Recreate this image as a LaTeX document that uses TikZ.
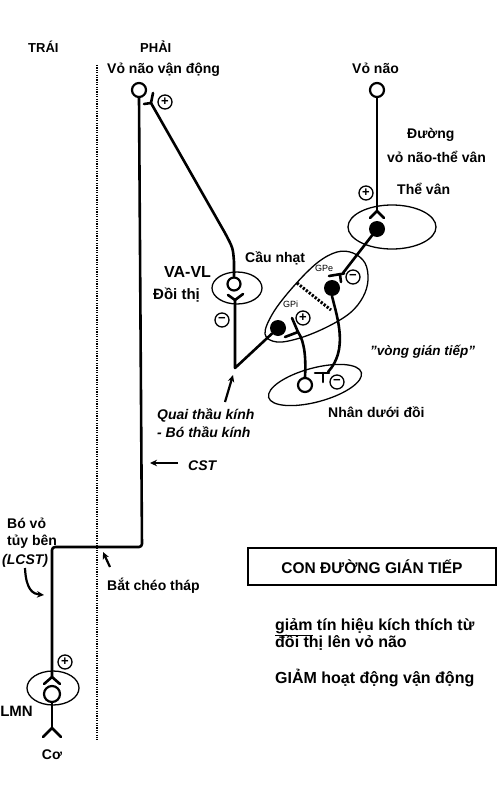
\documentclass[tikz,border=0pt]{standalone}
\usepackage{fontspec}
\setmainfont{Liberation Sans}
\usetikzlibrary{arrows.meta,shapes.geometric}
\begin{document}
\begin{tikzpicture}[x=1pt,y=-1pt,
  axon/.style={line width=2.6pt, line cap=round, line join=round},
  soma/.style={circle, draw, line width=2.2pt, inner sep=0pt, minimum size=13pt},
  fsoma/.style={circle, fill, inner sep=0pt, minimum size=16pt},
  sign/.style={circle, draw, line width=1.3pt, inner sep=0pt, minimum size=14pt, font=\fontsize{13}{13}\selectfont\bfseries},
  region/.style={ellipse, draw, line width=1.3pt, inner sep=0pt},
  lbl/.style={font=\fontsize{14}{16}\selectfont\bfseries, inner sep=0pt, anchor=base west},
  ilbl/.style={font=\fontsize{14}{16}\selectfont\bfseries\itshape, inner sep=0pt, anchor=base west},
  small/.style={font=\fontsize{9}{10}\selectfont, inner sep=0pt, anchor=base west},
  big/.style={font=\fontsize{16}{18}\selectfont\bfseries, inner sep=0pt, anchor=base west},
  arr/.style={line width=2.2pt, -{Stealth[length=7pt,width=6.5pt]}},
]
\useasboundingbox (0,0) rectangle (500,789);

% midline
\draw[line width=2.4pt, dash pattern=on 1.2pt off 1.2pt] (97,65) -- (97,740);

% regions
\node[region, minimum width=88pt, minimum height=44pt] (strE) at (392,227) {};
\node[region, minimum width=50pt, minimum height=32pt] (thalE) at (237,288) {};
\node[region, minimum width=52pt, minimum height=34pt] (lmnE) at (53,688) {};
\node[region, minimum width=96pt, minimum height=34pt, rotate=15] (stnE) at (315,385) {};
\draw[line width=1.3pt] plot[smooth cycle, tension=0.6] coordinates {(265,334) (273,313) (293,287) (317,263) (337,252) (353,253) (365,263) (368,280) (363,297) (350,313) (327,327) (300,338) (277,342)};
\draw[line width=3pt, dash pattern=on 2.2pt off 1.6pt] (297,283) -- (331,310);

% neurons
\node[soma, minimum size=14pt] (mc) at (139,90) {};
\node[soma, minimum size=14pt] (ctx) at (377,90) {};
\node[soma] (thal) at (234,284) {};
\node[fsoma] (str) at (377,229) {};
\node[fsoma] (gpe) at (332,288) {};
\node[fsoma] (gpi) at (278,328) {};
\node[soma, minimum size=14pt] (stn) at (305,385) {};
\node[soma, minimum size=16pt] (lmn) at (52,694) {};

% coordinates of terminals
\coordinate (mcT) at (151,103);
\coordinate (strT) at (377,211);
\coordinate (thT) at (235,300);
\coordinate (vtx) at (235,368);
\coordinate (gpeT) at (343,273);
\coordinate (stnT) at (328,372);
\coordinate (gpiT) at (298,332);
\coordinate (lmnT) at (52,677);
\coordinate (musT) at (52,728);

% corticospinal tract
\draw[axon, rounded corners=3pt] (mc.south) -- (142,547) -- (52,547) -- (lmnT);
\draw[axon] (lmnT) -- ++(-8,7) (lmnT) -- ++(8,7);
\draw[axon] (lmn.south) -- (musT);
\draw[axon] (musT) -- ++(-9,9) (musT) -- ++(9,9);

% thalamo-cortical
\draw[axon] (thal.north) -- (234,262) .. controls (233,248) .. (225,233) -- (mcT);
\draw[axon] (153,93) -- (mcT) -- (144,104);

% cortico-striatal
\draw[axon] (ctx.south) -- (strT);
\draw[axon] (strT) -- ++(-7,7) (strT) -- ++(7,7);

% striatum -> GPe
\draw[axon] (str) -- (gpeT);
\draw[axon] (329,276) -- (344,273.5) (340,274.5) -- (341,282);

% GPe -> STN
\draw[axon] (gpe.south) .. controls (338,320) and (348,350) .. (stnT);
\draw[axon] (315,373) -- (329,373) (323,373) -- (323,382);

% STN -> GPi
\draw[axon] (stn.north) .. controls (306,360) and (305,342) .. (gpiT);
\draw[axon] (292,318) -- (gpiT) -- (285,337);

% GPi -> thalamus
\draw[axon] (gpi) -- (vtx) -- (thT);
\draw[axon] (228,295) -- (thT) -- (243,294);

% signs
\node[sign] (p1) at (165,102) {+};
\node[sign] (p2) at (366,193) {+};
\node[sign] (m1) at (353,277) {−};
\node[sign] (p3) at (303,318) {+};
\node[sign] (m2) at (337,382) {−};
\node[sign] (m3) at (222,320) {−};
\node[sign] (p4) at (65,662) {+};

% labels
\node[lbl, font=\fontsize{13}{15}\selectfont\bfseries] (t1) at (28,53) {TRÁI};
\node[lbl, font=\fontsize{13}{15}\selectfont\bfseries] (t2) at (140,53) {PHẢI};
\node[lbl] (t3) at (107,74) {Vỏ não vận động};
\node[lbl] (t4) at (352,74) {Vỏ não};
\node[lbl] (t5) at (407,139) {Đường};
\node[lbl] (t6) at (387,162) {vỏ não-thể vân};
\node[lbl] (t7) at (397,194) {Thể vân};
\node[lbl] (t8) at (245,262) {Cầu nhạt};
\node[lbl, font=\fontsize{16}{18}\selectfont\bfseries] (t9) at (164,277) {VA-VL};
\node[lbl, font=\fontsize{15}{17}\selectfont\bfseries] (t10) at (153,299) {Đồi thị};
\node[small] (t11) at (315,271) {GPe};
\node[small] (t12) at (283,307) {GPi};
\node[ilbl, font=\fontsize{13.5}{15}\selectfont\bfseries\itshape] (t13) at (370,355) {\symbol{34}vòng gián tiếp\symbol{34}};
\node[lbl] (t14) at (328,417) {Nhân dưới đồi};
\node[ilbl] (t15) at (157,419) {Quai thầu kính};
\node[ilbl] (t16) at (157,437) {- Bó thầu kính};
\node[ilbl] (t17) at (188,470) {CST};
\node[lbl] (t18) at (7,528) {Bó vỏ};
\node[lbl] (t19) at (7,545) {tủy bên};
\node[ilbl] (t20) at (2,564) {(LCST)};
\node[lbl] (t21) at (107,590) {Bắt chéo tháp};
\node[lbl, font=\fontsize{15}{17}\selectfont\bfseries, anchor=base east] (t22) at (33,716) {LMN};
\node[lbl, anchor=base] (t23) at (52,759) {Cơ};

% arrows
\coordinate (a1s) at (225,402);
\coordinate (a1e) at (233,375);
\draw[arr] (a1s) -- (a1e);
\coordinate (a2s) at (178,463);
\coordinate (a2e) at (150,463);
\draw[arr] (a2s) -- (a2e);
\coordinate (a3s) at (110,567);
\coordinate (a3e) at (103,552);
\draw[arr] (a3s) -- (a3e);
\coordinate (a4s) at (25,568);
\coordinate (a4e) at (44,595);
\draw[arr] (a4s) .. controls (26,590) and (33,594) .. (a4e);

% box and summary
\node[draw, line width=2.4pt, minimum width=248pt, minimum height=37pt, inner sep=0pt, font=\fontsize{15.5}{18}\selectfont\bfseries] (box) at (372,566.5) {CON ĐƯỜNG GIÁN TIẾP};
\node[big] (s1) at (275,630) {\underline{giảm} tín hiệu kích thích từ};
\node[big] (s2) at (275,647) {đồi thị lên vỏ não};
\node[big] (s3) at (275,683) {GIẢM hoạt động vận động};
\end{tikzpicture}
\end{document}
